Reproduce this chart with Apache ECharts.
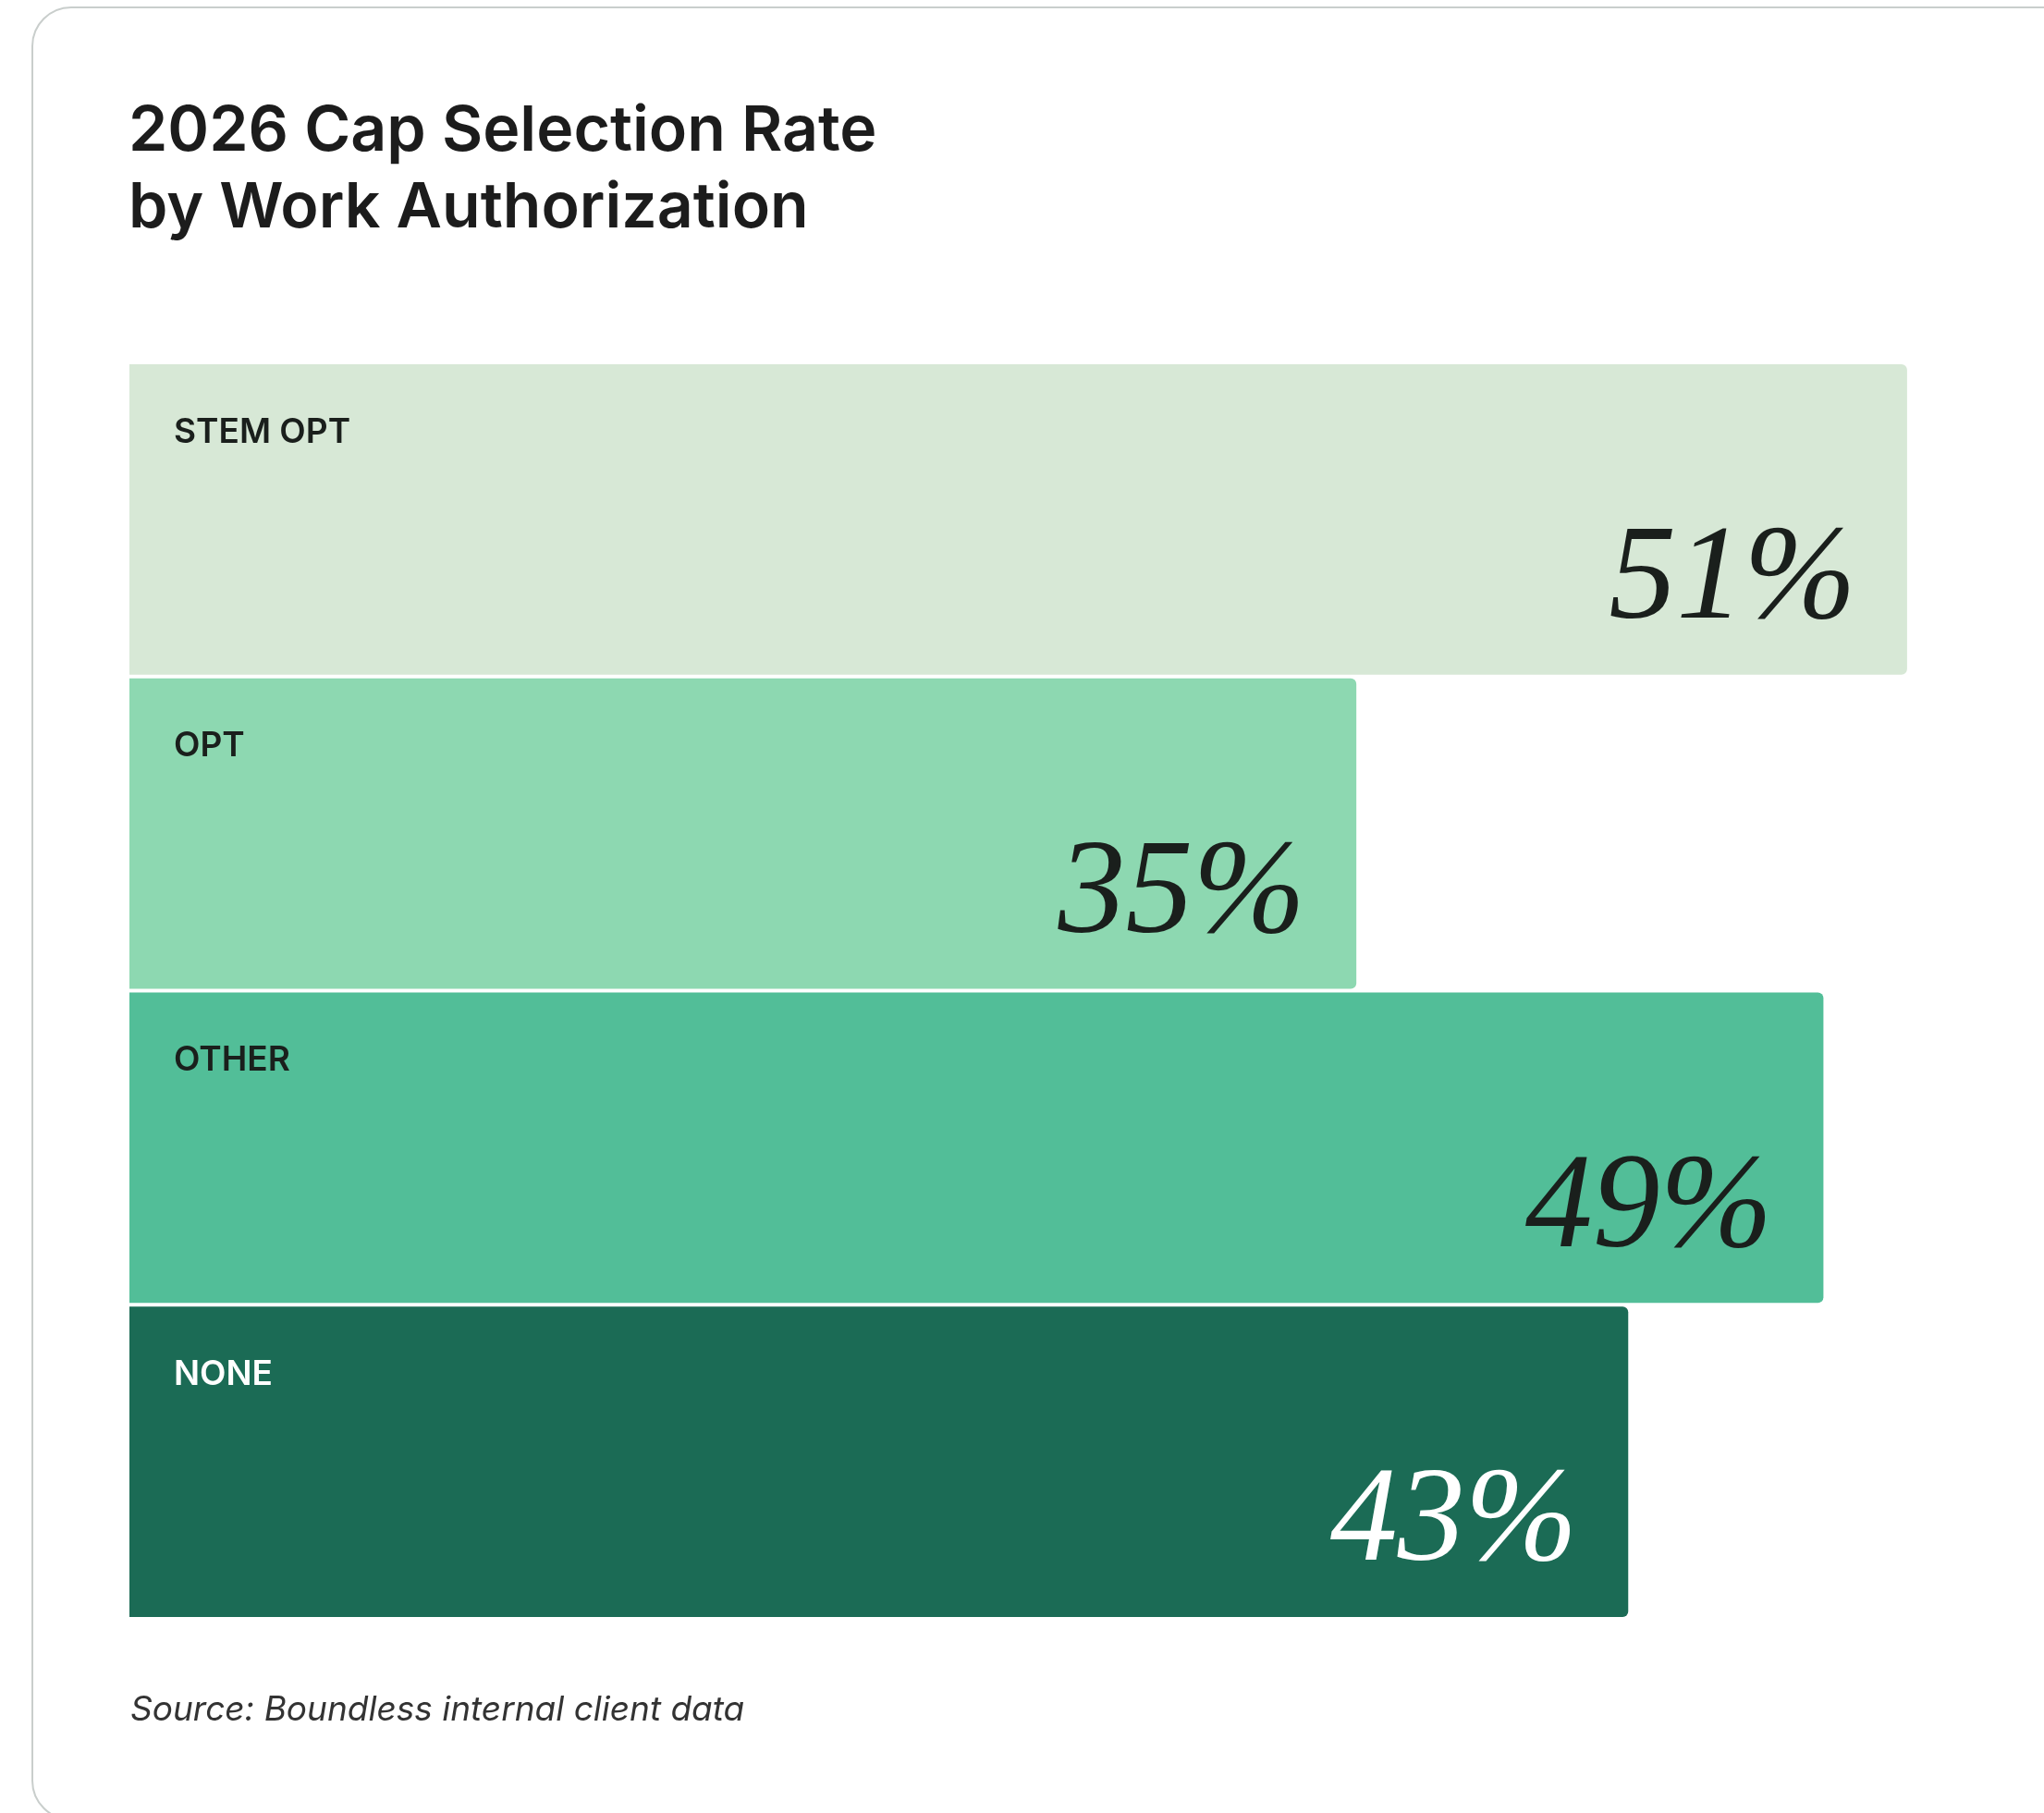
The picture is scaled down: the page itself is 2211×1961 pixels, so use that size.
<!DOCTYPE html>
<html>
<head>
<meta charset="utf-8">
<script src="https://cdn.jsdelivr.net/npm/echarts@6/dist/echarts.min.js"></script>
<style>
  html, body { margin: 0; padding: 0; background: #fff; }
  #chart { width: 2211px; height: 1961px; }
</style>
</head>
<body>
<div id="chart"></div>
<script>
const categories = ["STEM OPT", "OPT", "OTHER", "NONE"]
// bar lengths; labels show the rounded percent
const rates = [51.0, 35.2, 48.6, 43.0]
const barColors = ["#d7e8d6", "#8dd8b1", "#52be98", "#1b6b55"]
const textColors = ["#1a1f1c", "#1a1f1c", "#1a1f1c", "#ffffff"]

const chart = echarts.init(document.getElementById("chart"))

const valueData = rates.map((v, i) => ({
  value: v,
  itemStyle: { color: barColors[i] },
  label: { color: textColors[i] },
}))
const nameData = rates.map((v, i) => ({
  value: v,
  label: { color: textColors[i] },
}))

const option = {
  backgroundColor: "#ffffff",
  animation: false,
  graphic: [
    {
      type: "rect",
      shape: { x: 35, y: 8, width: 2400, height: 1960, r: 42 },
      style: { fill: "#ffffff", stroke: "#c9cecc", lineWidth: 2 },
      z: -10,
    },
    {
      type: "text",
      left: 141,
      top: 1831,
      style: {
        text: "Source: Boundless internal client data",
        fontFamily: "Inter",
        fontStyle: "italic",
        fontSize: 37,
        fill: "#333333",
      },
    },
  ],
  title: {
    text: "2026 Cap Selection Rate\nby Work Authorization",
    left: 134,
    top: 96,
    textStyle: {
      fontFamily: "Inter",
      fontWeight: 600,
      fontSize: 68,
      lineHeight: 83,
      color: "#1c1c1c",
    },
  },
  grid: { left: 140, right: 35, top: 392, bottom: 210 },
  xAxis: {
    type: "value",
    min: 0,
    max: 54,
    show: false,
  },
  yAxis: {
    type: "category",
    data: categories,
    inverse: true,
    show: false,
  },
  series: [
    {
      type: "bar",
      data: valueData,
      barCategoryGap: "1.2%",
      barGap: "-100%",
      itemStyle: { borderRadius: [0, 6, 6, 0] },
      label: {
        show: true,
        position: "insideBottomRight",
        distance: 35,
        offset: [-20, 8],
        formatter: (p) => Math.round(p.value) + "%",
        fontFamily: "Liberation Serif",
        fontStyle: "italic",
        fontSize: 146,
        lineHeight: 146,
      },
    },
    {
      type: "bar",
      data: nameData,
      barCategoryGap: "1.2%",
      barGap: "-100%",
      itemStyle: { color: "transparent" },
      label: {
        show: true,
        position: "insideTopLeft",
        distance: 50,
        offset: [-2, 5],
        formatter: (p) => p.name,
        fontFamily: "Inter",
        fontWeight: 600,
        fontSize: 37,
        lineHeight: 37,
      },
    },
  ],
}

option && chart.setOption(option)
</script>
</body>
</html>
